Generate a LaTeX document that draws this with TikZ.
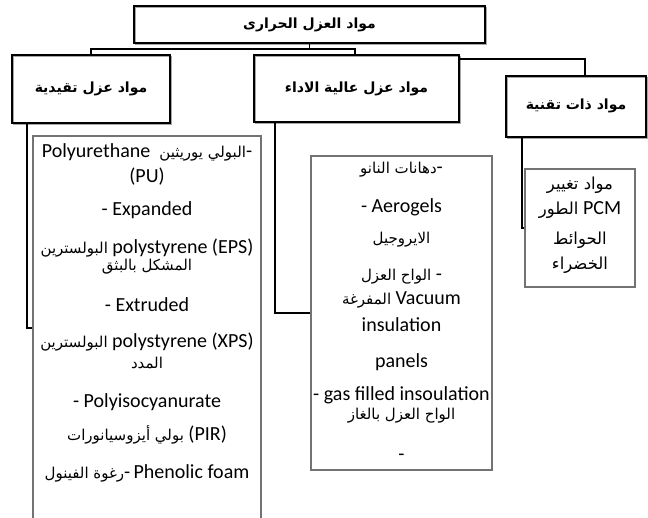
\documentclass[tikz,border=0pt]{standalone}
\usepackage{fontspec}
\setmainfont{Carlito}
\newfontfamily\arabicfont[Script=Arabic]{DejaVu Sans}
\TeXXeTstate=1
\newcommand\artx[1]{{\arabicfont\fontsize{15}{18}\selectfont\beginR #1\endR}}
\newcommand\artxb[1]{{\arabicfont\fontsize{16.5}{19}\selectfont\beginR #1\endR}}
\newcommand\arhd[1]{{\arabicfont\bfseries\fontsize{14}{16}\selectfont\beginR #1\endR}}
\begin{document}
\begin{tikzpicture}[x=1pt,y=-1pt,
  conn/.style={line width=1.3pt, draw=black},
  hdr/.style={draw=black, line width=1.3pt, inner sep=0pt, align=center,
    preaction={draw=black!35, line width=1.3pt, transform canvas={shift={(1.3pt,-1.3pt)}}}},
  lst/.style={draw=black!55, line width=1.6pt, inner sep=0pt},
  tx/.style={font=\fontsize{20}{24}\selectfont, inner sep=0pt, text=black}]
\useasboundingbox (0,0) rectangle (648,518);
\clip (0,0) rectangle (648,518);
% header boxes
\node[hdr, minimum width=351pt, minimum height=37pt] (top) at (309.5,24.5) {\arhd{مواد العزل الحرارى}};
\node[hdr, minimum width=158pt, minimum height=68pt] (left) at (91,89) {\arhd{مواد عزل تقيدية}};
\node[hdr, minimum width=205pt, minimum height=67pt] (mid) at (356.5,88.5) {\arhd{مواد عزل عالية الاداء}};
\node[hdr, minimum width=140pt, minimum height=61pt] (right) at (576,106.5) {\raisebox{5pt}{\arhd{مواد ذات تقنية}}};
% list boxes
\node[lst, minimum width=228pt, minimum height=404pt] (llist) at (147,338) {};
\node[lst, minimum width=181pt, minimum height=314pt] (mlist) at (401.5,313) {};
\node[lst, minimum width=110pt, minimum height=118pt] (rlist) at (580,228) {};
% connectors
\coordinate (jL) at (91,49);
\coordinate (jR) at (355,49);
\draw[conn] (top.south) -- (top.south |- jL);
\draw[conn] (left.north -| jL) -- (jL) -- (jR) -- (mid.north -| jR);
\coordinate (jRR) at (585,59);
\draw[conn] (mid.east |- jRR) -- (jRR) -- (right.north -| jRR);
\coordinate (kL) at (27,328);
\draw[conn] (left.south -| kL) -- (kL) -- (llist.west |- kL);
\coordinate (kM) at (275,313);
\draw[conn] (mid.south -| kM) -- (kM) -- (mlist.west |- kM);
\coordinate (kR) at (522,228);
\draw[conn] (right.south -| kR) -- (kR) -- (rlist.west |- kR);
% left list text
\node[tx] (a1) at (147,152) {Polyurethane\ \ \artx{البولي يوريثين}-};
\node[tx] (a2) at (147,177) {(PU)};
\node[tx] (a3) at (147,210) {- Expanded};
\node[tx] (a4) at (147,248) {\artx{البولسترين} polystyrene (EPS)};
\node[tx] (a5) at (147,267) {\artx{المشكل بالبثق}};
\node[tx] (a6) at (147,305) {- Extruded};
\node[tx] (a7) at (147,342) {\artx{البولسترين} polystyrene (XPS)};
\node[tx] (a8) at (147,363) {\artx{المدد}};
\node[tx] (a9) at (147,402) {- Polyisocyanurate};
\node[tx] (a10) at (147,435) {\artx{بولي أيزوسيانورات} (PIR)};
\node[tx] (a11) at (147,473) {\artx{رغوة الفينول}-\,Phenolic foam};
% middle list text
\node[tx] (b1) at (401.5,170) {\artx{دهانات النانو}-};
\node[tx] (b2) at (401.5,207) {- Aerogels};
\node[tx] (b3) at (401.5,240) {\artx{الايروجيل}};
\node[tx] (b4) at (401.5,277) {\artx{الواح العزل} -};
\node[tx] (b5) at (401.5,300) {\artx{المفرغة} Vacuum};
\node[tx] (b6) at (401.5,325) {insulation};
\node[tx] (b7) at (401.5,362) {panels};
\node[tx] (b8) at (401.5,395) {- gas filled insoulation};
\node[tx] (b9) at (401.5,416) {\artx{الواح العزل بالغاز}};
\node[tx] (b10) at (401.5,457) {-};
% right list text
\node[tx] (c1) at (580,185) {\artxb{مواد تغيير}};
\node[tx] (c2) at (580,210) {\artxb{الطور} PCM};
\node[tx] (c3) at (580,240) {\artxb{الحوائط}};
\node[tx] (c4) at (580,265) {\artxb{الخضراء}};
\end{tikzpicture}
\end{document}
